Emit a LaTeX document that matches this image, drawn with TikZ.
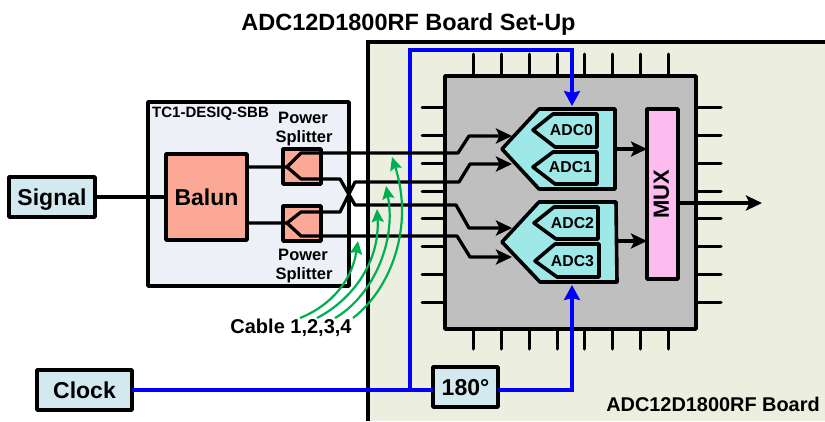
\documentclass[tikz,border=0pt]{standalone}
\usepackage{fontspec}
\setmainfont{Liberation Sans}
\usetikzlibrary{arrows.meta}
\definecolor{boardfill}{HTML}{ECEEE0}
\definecolor{tcfill}{HTML}{EDF0F6}
\definecolor{salmon}{HTML}{FCA896}
\definecolor{chipgray}{HTML}{BFBFBF}
\definecolor{adcfill}{HTML}{9FE8E8}
\definecolor{muxfill}{HTML}{FCBCF0}
\definecolor{lightbox}{HTML}{D2E9F0}
\definecolor{cablegreen}{HTML}{00B050}
\definecolor{clockblue}{HTML}{0000FF}
\newcommand{\fs}[1]{\fontsize{#1}{#1}\selectfont\bfseries}
\tikzset{
  x=1pt,y=-1pt,
  box/.style={draw=black,line width=3.6pt,inner sep=0pt,outer sep=0pt,line join=round,font=\fs{23},text height=16.5pt,text depth=0pt},
  label/.style={inner sep=0pt,outer sep=0pt,font=\fs{16.5}},
  wire/.style={draw=black,line width=3.3pt,line join=round},
  sig/.style={wire,-{Stealth[length=16pt,width=15pt,inset=3.5pt]}},
  clk/.style={draw=clockblue,line width=3.6pt,line join=miter},
  clkarrow/.style={clk,-{Stealth[length=15pt,width=16pt,inset=2pt]}},
  cable/.style={draw=cablegreen,line width=2.2pt,-{Stealth[length=13pt,width=12pt,inset=2pt]}},
  pin/.style={draw=black,line width=3pt,line cap=round},
  adc/.style={draw=black,line width=3.6pt,fill=adcfill,line join=round},
}
\begin{document}
\begin{tikzpicture}
\useasboundingbox (0,0) rectangle (825,421);
% board
\fill[boardfill] (368,42) rectangle (825,421);
\draw[black,line width=3.6pt] (368,421) -- (368,42) -- (825,42);
\node[inner sep=0pt,font=\fs{23.5},anchor=center] (title) at (408.5,24) {ADC12D1800RF Board Set-Up};
\node[inner sep=0pt,font=\fs{19.9},anchor=center] (boardlabel) at (713,404) {ADC12D1800RF Board};
% chip pins
\foreach \x in {473,501,529,557,584,612,640,668} {
  \draw[pin] (\x,54) -- (\x,76);
  \draw[pin] (\x,329) -- (\x,349);
}
\foreach \y in {107,135,163,191,218,246,274,302} {
  \draw[pin] (422,\y) -- (445,\y);
  \draw[pin] (696,\y) -- (721,\y);
}
\node[box,fill=chipgray,minimum width=251pt,minimum height=253pt] (chip) at (570.5,202.5) {};
% TC1 box
\node[box,fill=tcfill,minimum width=201pt,minimum height=184pt] (tc) at (248.5,194) {};
\node[inner sep=0pt,font=\fs{15},anchor=west] (tclabel) at (152,114) {TC1-DESIQ-SBB};
\node[label] (ps1a) at (303,118) {Power};
\node[label] (ps1b) at (304,138) {Splitter};
\node[label] (ps2a) at (303,255) {Power};
\node[label] (ps2b) at (304,275) {Splitter};
% boxes
\node[box,fill=salmon,minimum width=81pt,minimum height=86pt] (balun) at (206.5,197) {Balun};
\node[box,fill=salmon,minimum width=38pt,minimum height=35pt] (sp1) at (302,166.5) {};
\node[box,fill=salmon,minimum width=38pt,minimum height=35pt] (sp2) at (302,223.5) {};
\node[box,fill=lightbox,minimum width=86pt,minimum height=40pt] (signal) at (52,197) {Signal};
\node[box,fill=lightbox,minimum width=95pt,minimum height=40pt] (clock) at (84.5,390) {Clock};
\node[box,fill=lightbox,minimum width=65pt,minimum height=40pt] (deg) at (465.5,387) {180°};
% ADC blocks
\draw[adc] (615,109) -- (539,109) -- (502,149) -- (539,189) -- (615,189) -- cycle;
\coordinate (g1in) at (512,136);
\coordinate (g1inb) at (512,164);
\coordinate (g1out) at (616,149);
\draw[adc] (616,202) -- (539,202) -- (502,242) -- (540,282) -- (617,282) -- cycle;
\coordinate (g2in) at (512,228);
\coordinate (g2inb) at (512,257);
\coordinate (g2out) at (617,241);
\draw[adc] (597,114) -- (553,114) -- (533,130) -- (555,147) -- (597,147) -- cycle;
\draw[adc] (597,152) -- (553,152) -- (533,167) -- (555,184) -- (597,184) -- cycle;
\draw[adc] (598,207) -- (554,207) -- (534,223) -- (556,239) -- (598,239) -- cycle;
\draw[adc] (599,244) -- (555,244) -- (535,261) -- (557,277) -- (599,277) -- cycle;
\node[inner sep=0pt,font=\fs{15.8}] (adc0) at (571.5,130) {ADC0};
\node[inner sep=0pt,font=\fs{15.8}] (adc1) at (570.5,167) {ADC1};
\node[inner sep=0pt,font=\fs{15.8}] (adc2) at (572.5,223) {ADC2};
\node[inner sep=0pt,font=\fs{15.8}] (adc3) at (572.5,261) {ADC3};
% MUX
\node[box,fill=muxfill,minimum width=31pt,minimum height=170pt] (mux) at (662.5,194) {};
\node[inner sep=0pt,font=\fs{22},rotate=90] (muxlabel) at (661.5,194) {MUX};
% clock wiring
\coordinate (jn) at (410,390);
\coordinate (topc) at (410,50);
\coordinate (topd) at (572,50);
\coordinate (adctop) at (572,106);
\coordinate (botc) at (572,390);
\coordinate (adcbot) at (572,285);
\draw[clk] (clock.east) -- (deg.west|-clock.east);
\draw[clkarrow] (jn) -- (topc) -- (topd) -- (adctop);
\draw[clkarrow] (deg.east|-botc) -- (botc) -- (adcbot);
% signal wiring
\draw[wire] (signal.east) -- (balun.west);
\coordinate (f1) at (287,167);
\coordinate (f1u) at (301,153);
\coordinate (f1l) at (301,179);
\coordinate (f2) at (287,223);
\coordinate (f2u) at (301,212);
\coordinate (f2l) at (301,236);
\draw[sig] (balun.east|-f1) -- (f1) -- (f1u) -- (458,153) -- (469,136) -- (g1in);
\draw[sig] (f1) -- (f1l) -- (340,179) -- (355,205) -- (456,205) -- (469,228) -- (g2in);
\draw[sig] (balun.east|-f2) -- (f2) -- (f2u) -- (340,212) -- (355,182) -- (459,182) -- (470,164) -- (g1inb);
\draw[sig] (f2) -- (f2l) -- (457,236) -- (470,257) -- (g2inb);
\draw[sig] (g1out) -- (mux.west|-g1out);
\draw[sig] (g2out) -- (mux.west|-g2out);
\coordinate (muxout) at (762,203);
\draw[sig] (mux.east|-muxout) -- (muxout);
% cables
\node[inner sep=0pt,font=\fs{20}] (cablelabel) at (291,328) {Cable 1,2,3,4};
\coordinate (c1) at (300,318);
\coordinate (c2) at (317,318);
\coordinate (c3) at (335,318);
\coordinate (c4) at (353,318);
\draw[cable] (c1) .. controls (332,305) and (352,280) .. (358,241);
\draw[cable] (c2) .. controls (352,300) and (380,262) .. (377,209);
\draw[cable] (c3) .. controls (370,298) and (397,245) .. (386,186);
\draw[cable] (c4) .. controls (392,288) and (414,225) .. (392,157);
\end{tikzpicture}
\end{document}
